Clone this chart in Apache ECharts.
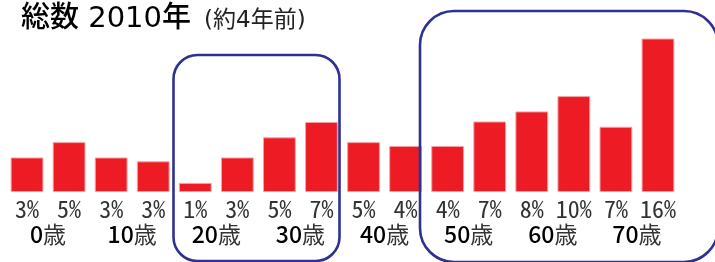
<!DOCTYPE html>
<html>
<head>
<meta charset="utf-8">
<script src="https://cdn.jsdelivr.net/npm/echarts@6/dist/echarts.min.js"></script>
<style>
html, body {margin:0; padding:0; background:#fff;}
#chart {width:715px; height:262px;}
</style>
</head>
<body>
<div id="chart"></div>
<script>
/************************ 図表データ *******************************/
var pctLabels = ['3%','5%','3%','3%','1%','3%','5%','7%','5%','4%','4%','7%','8%','10%','7%','16%'];
var shares = [3.6, 5.2, 3.6, 3.2, 0.95, 3.6, 5.7, 7.3, 5.2, 4.8, 4.8, 7.35, 8.4, 10.0, 6.8, 16.0];
var ageLabels = ['0','10','20','30','40','50','60','70'];

var chart = echarts.init(document.getElementById('chart'));

var navy = '#2e3192';
var jpFont = '"Noto Sans CJK JP", sans-serif';

var opt = {
    animation: false,
    title: {
        text: '{a|総数 2010年} {b|(約4年前)}',
        left: 16, top: 0,
        textStyle: {
            fontWeight: 'normal',
            rich: {
                a: {fontSize: 29, color: '#000', fontFamily: '"DejaVu Sans", "Noto Sans CJK JP"', fontWeight: 500},
                b: {fontSize: 23, color: '#222', fontFamily: '"DejaVu Sans", "Noto Sans CJK JP"', fontWeight: 'normal', padding: [4,0,0,8]}
            }
        }
    },
    grid: {left: 6, width: 673, top: 38.5, bottom: 70},
    xAxis: [{
        type: 'category', data: pctLabels,
        axisLine: {show: false}, axisTick: {show: false},
        axisLabel: {margin: 5, fontSize: 24, color: '#333', fontFamily: '"Noto Sans Mono CJK JP", "Noto Sans CJK JP", monospace', interval: 0}
    }, {
        type: 'category', data: ageLabels, position: 'bottom',
        axisLine: {show: false}, axisTick: {show: false},
        axisLabel: {
            margin: 31, interval: 0, fontWeight: 'normal', fontFamily: jpFont, fontSize: 23,
            formatter: function (v) { return '{d|' + v + '}{n|歳}'; },
            rich: {
                d: {fontSize: 23, color: '#000', fontWeight: 500, fontFamily: jpFont},
                n: {fontSize: 23, color: '#333', fontWeight: 'normal', fontFamily: jpFont}
            }
        }
    }],
    yAxis: {type: 'value', min: 0, max: 16, show: false, splitLine: {show: false}},
    series: [{
        type: 'bar', xAxisIndex: 0, data: shares,
        barCategoryGap: '22%',
        itemStyle: {color: '#ed1c24', borderColor: '#f4a3a6', borderWidth: 1}
    }],
    graphic: [{
        type: 'rect', shape: {x: 173.5, y: 55, width: 166, height: 206, r: 24},
        style: {fill: 'none', stroke: navy, lineWidth: 2.6}, z: 10
    }, {
        type: 'rect', shape: {x: 420, y: 11, width: 298, height: 251, r: 34},
        style: {fill: 'none', stroke: navy, lineWidth: 2.6}, z: 10
    }]
};

chart.setOption(opt);
</script>
</body>
</html>
